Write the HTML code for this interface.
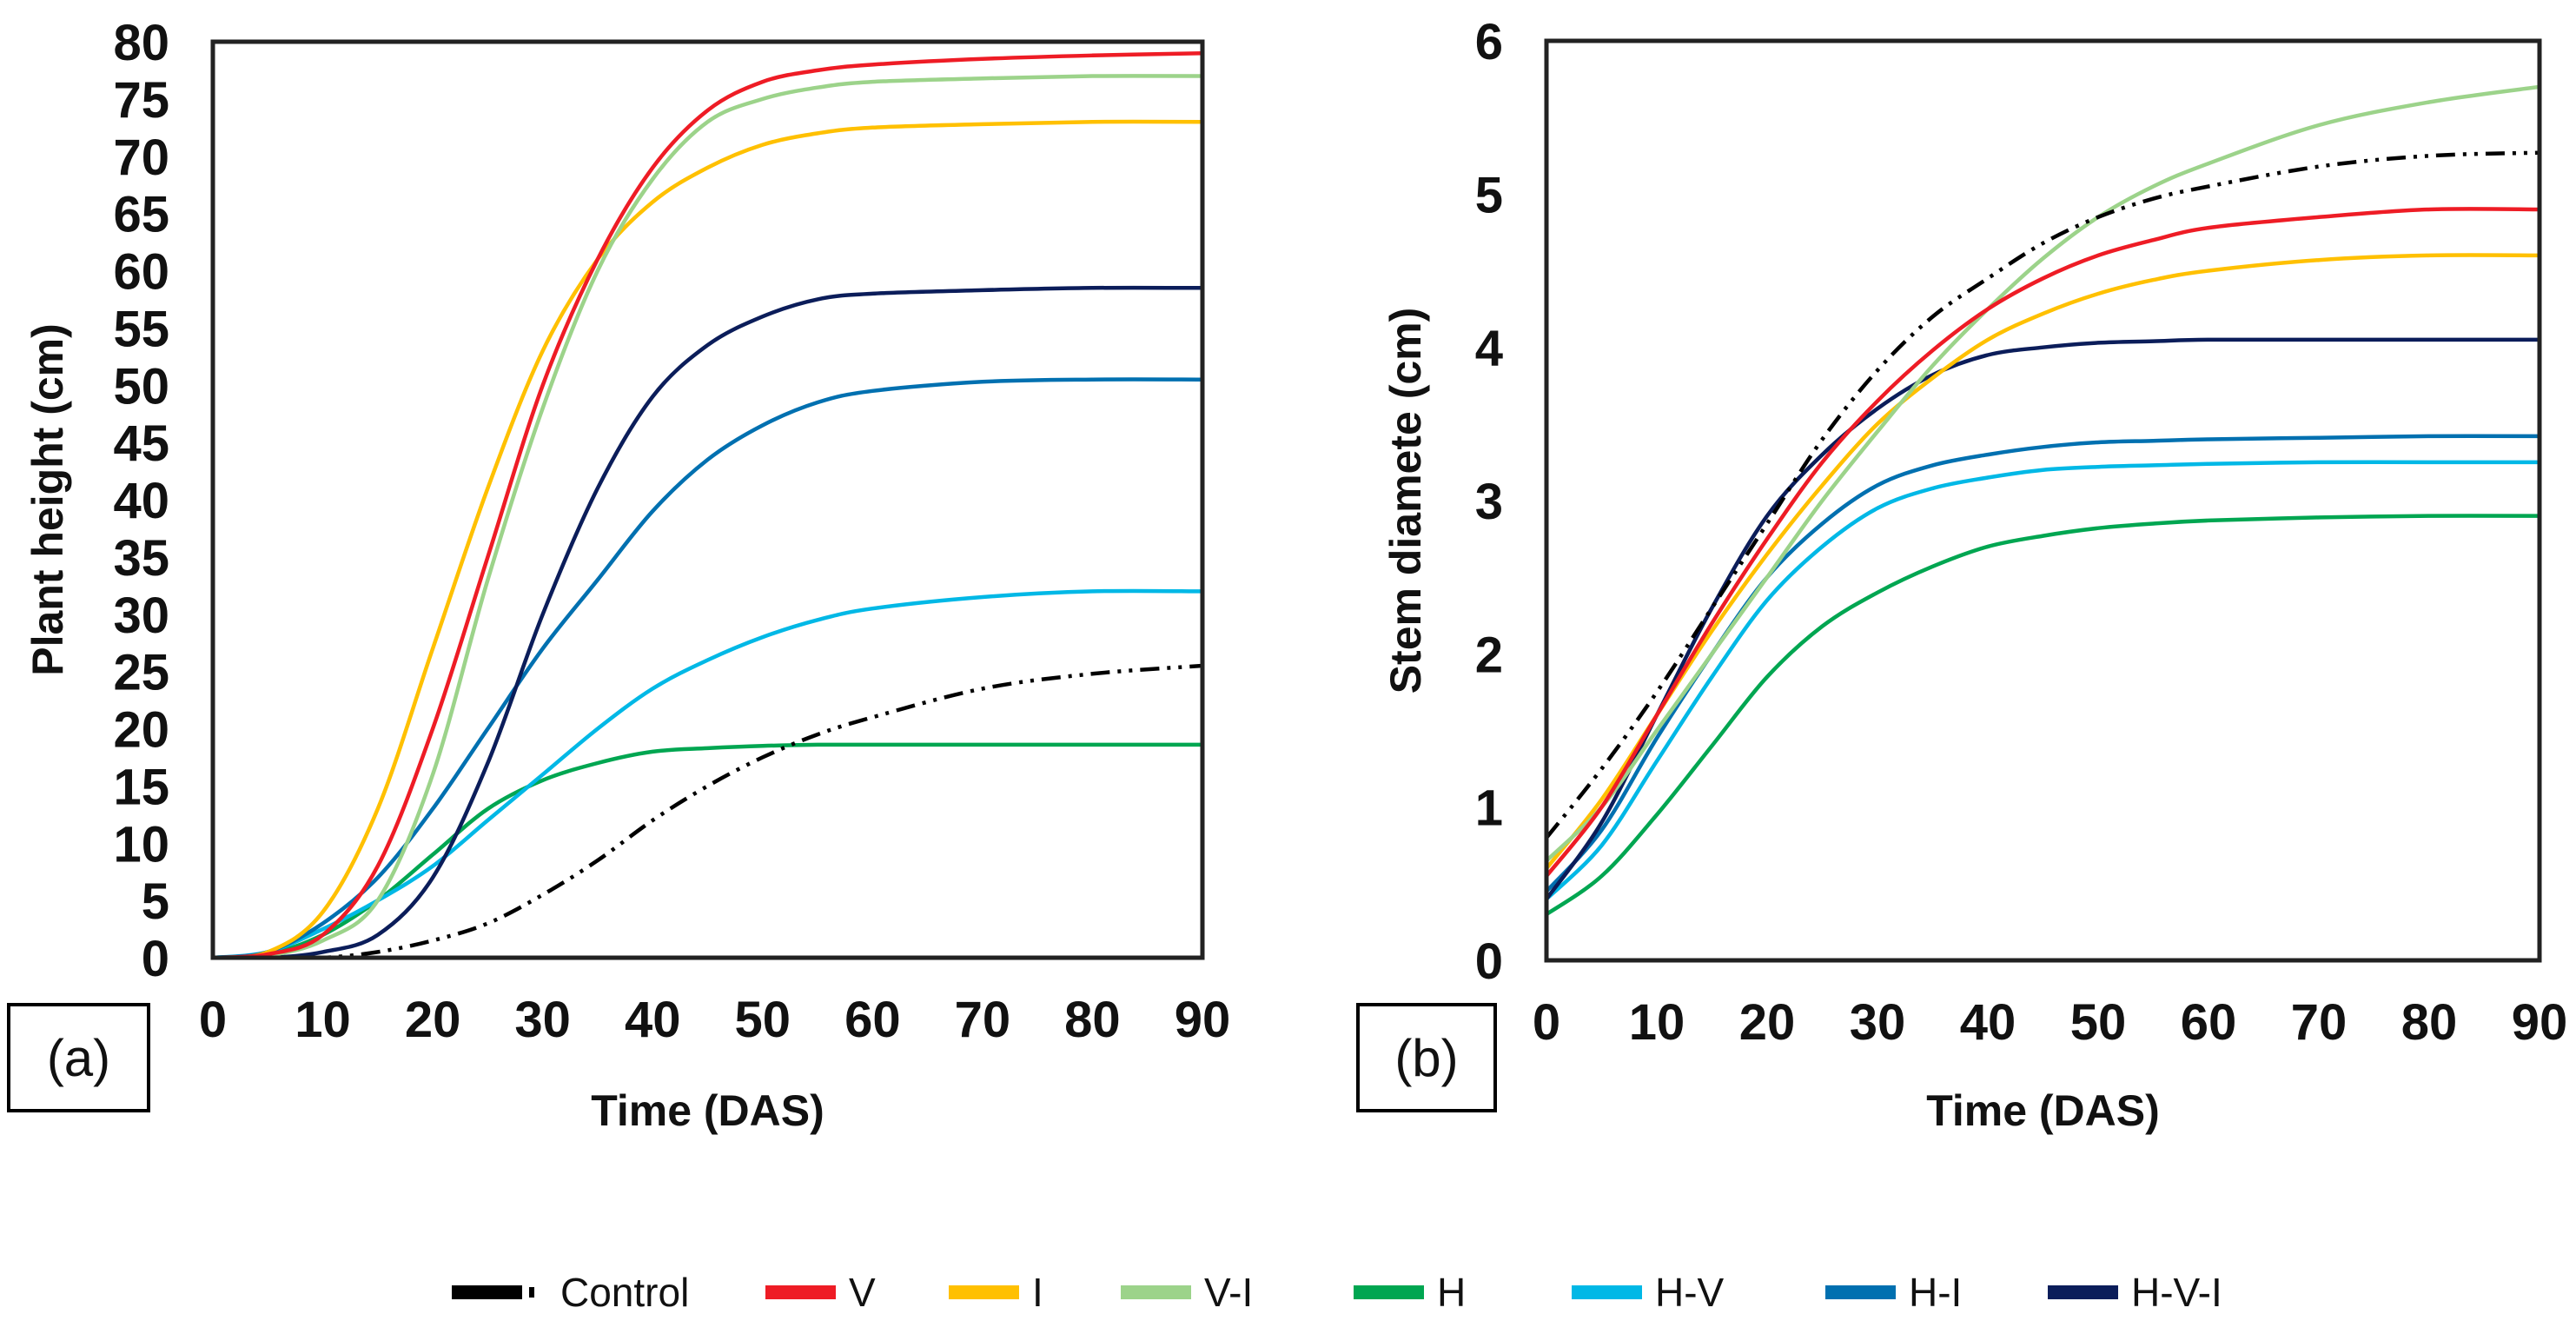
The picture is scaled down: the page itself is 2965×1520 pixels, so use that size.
<!DOCTYPE html>
<html><head><meta charset="utf-8"><style>
html,body{margin:0;padding:0;background:#fff}
svg{display:block}
text{font-family:"Liberation Sans",Arial,sans-serif}
</style></head><body>
<svg id="fig" width="2965" height="1520" viewBox="0 0 2965 1520" xmlns="http://www.w3.org/2000/svg">
<g id="pa"></g>
<g id="pb"></g>
<g id="legend"></g>
</svg>
<script>
const seriesNames = ["Control","V","I","V-I","H","H-V","H-I","H-V-I"];
const seriesColors = ["#000000","#ee1c25","#ffc000","#9cd38a","#00a651","#00b8e6","#0070b0","#0b1d5a"];
const aTimes = [0,5,10,15,20,25,30,35,40,45,50,55,60,70,80,90];
const aControl = [0,0,0,0.5,1.5,3,5.5,8.5,12,15,17.5,19.5,21,23.5,24.8,25.5];
const aV = [0,0.3,2,8,20,35,50,61,69,74,76.5,77.5,78,78.5,78.8,79];
const aI = [0,0.5,4,13,27,41,53,61,66,69,71,72,72.5,72.8,73,73];
const aVI = [0,0.2,1.5,5,16,33,48,60,68,73,75,76,76.5,76.8,77,77];
const aH = [0,0.3,2,5,9,13,15.5,17,18,18.3,18.5,18.6,18.6,18.6,18.6,18.6];
const aHV = [0,0.5,2.5,5,8,12,16,20,23.5,26,28,29.5,30.5,31.5,32,32];
const aHI = [0,0.5,3,7,13,20,27,33,39,43.5,46.5,48.5,49.5,50.3,50.5,50.5];
const aHVI = [0,0,0.5,2,7,17,30,41,49,53.5,56,57.5,58,58.3,58.5,58.5];
const bTimes = [0,5,10,15,20,25,30,35,40,45,50,55,60,70,80,90];
const bControl = [0.8,1.25,1.75,2.3,2.85,3.4,3.85,4.2,4.45,4.68,4.85,4.97,5.05,5.18,5.25,5.27];
const bV = [0.55,1.0,1.6,2.2,2.75,3.25,3.65,3.98,4.25,4.45,4.6,4.7,4.78,4.85,4.9,4.9];
const bI = [0.6,1.05,1.6,2.15,2.65,3.1,3.5,3.8,4.05,4.22,4.35,4.44,4.5,4.57,4.6,4.6];
const bVI = [0.65,1.0,1.5,2.0,2.5,3.0,3.45,3.88,4.25,4.58,4.85,5.05,5.2,5.45,5.6,5.7];
const bH = [0.3,0.55,0.95,1.4,1.85,2.18,2.4,2.57,2.7,2.77,2.82,2.85,2.87,2.89,2.9,2.9];
const bHV = [0.4,0.75,1.3,1.85,2.35,2.7,2.95,3.08,3.15,3.2,3.22,3.23,3.24,3.25,3.25,3.25];
const bHI = [0.45,0.85,1.45,2.0,2.5,2.85,3.1,3.23,3.3,3.35,3.38,3.39,3.4,3.41,3.42,3.42];
const bHVI = [0.4,0.9,1.6,2.3,2.9,3.3,3.6,3.82,3.95,4.0,4.03,4.04,4.05,4.05,4.05,4.05];
const xTicks = [0,10,20,30,40,50,60,70,80,90];
const aYTicks = [0,5,10,15,20,25,30,35,40,45,50,55,60,65,70,75,80];
const bYTicks = [0,1,2,3,4,5,6];

const NS="http://www.w3.org/2000/svg";
function mk(tag,attrs,parent){const e=document.createElementNS(NS,tag);for(const k in attrs)e.setAttribute(k,attrs[k]);parent.appendChild(e);return e;}
function path(pts){let d="M"+pts[0][0]+","+pts[0][1];for(let i=0;i<pts.length-1;i++){const p0=pts[Math.max(0,i-1)],p1=pts[i],p2=pts[i+1],p3=pts[Math.min(pts.length-1,i+2)];const c1=[p1[0]+(p2[0]-p0[0])/6,p1[1]+(p2[1]-p0[1])/6];const c2=[p2[0]-(p3[0]-p1[0])/6,p2[1]-(p3[1]-p1[1])/6];d+=" C"+c1[0].toFixed(1)+","+c1[1].toFixed(1)+" "+c2[0].toFixed(1)+","+c2[1].toFixed(1)+" "+p2[0].toFixed(1)+","+p2[1].toFixed(1);}return d;}

function panel(g,cfg){
  const X=t=>cfg.l+(t-0)/90*(cfg.r-cfg.l);
  const Y=v=>cfg.b-v/cfg.ymax*(cfg.b-cfg.t);
  const clip="clip"+cfg.id;
  const cp=mk("clipPath",{id:clip},g);mk("rect",{x:cfg.l,y:cfg.t,width:cfg.r-cfg.l,height:cfg.b-cfg.t},cp);
  const lines=mk("g",{"clip-path":"url(#"+clip+")"},g);
  const order=[4,5,6,7,2,3,1,0];
  order.forEach(i=>{
    const vals=cfg.series[i];
    const pts=cfg.times.map((t,j)=>[X(t),Y(vals[j])]);
    const p=mk("path",{d:path(pts),fill:"none",stroke:seriesColors[i],"stroke-width":4.5,"stroke-linejoin":"round"},lines);
    if(i==0)p.setAttribute("stroke-dasharray","22 9 4 9 4 9");
    
    
  });
  const fr=mk("rect",{x:cfg.l,y:cfg.t,width:cfg.r-cfg.l,height:cfg.b-cfg.t,fill:"none",stroke:"#222","stroke-width":5},g);
  
  
  xTicks.forEach(t=>{const tx=mk("text",{x:X(t),y:cfg.b+91,"font-size":58,"font-weight":"bold","text-anchor":"middle",fill:"#111"},g);tx.textContent=t;
    
    });
  cfg.yTicks.forEach(v=>{const tx=mk("text",{x:cfg.l-cfg.ylabOff,y:Y(v)+21,"font-size":58,"font-weight":"bold","text-anchor":"end",fill:"#111"},g);tx.textContent=v;
    
    });
  const xt=mk("text",{x:(cfg.l+cfg.r)/2,y:1295,"font-size":50,"font-weight":"bold","text-anchor":"middle",fill:"#111"},g);xt.textContent="Time (DAS)";
  
  
  const yt=mk("text",{x:0,y:0,"font-size":50,"font-weight":"bold","text-anchor":"middle",fill:"#111",transform:"translate("+cfg.ytx+","+((cfg.t+cfg.b)/2)+") rotate(-90)"},g);yt.textContent=cfg.ytitle;
  
  
  const bx=mk("rect",{x:cfg.box[0],y:1156,width:cfg.box[1]-cfg.box[0],height:122,fill:"#fff",stroke:"#000","stroke-width":4},g);
  
  
  const bt=mk("text",{x:(cfg.box[0]+cfg.box[1])/2,y:1238,"font-size":60,"text-anchor":"middle",fill:"#111"},g);bt.textContent=cfg.label;
  
  
}
panel(document.getElementById("pa"),{id:"a",l:245,r:1384,t:48,b:1102,ymax:80,times:aTimes,
  series:[aControl,aV,aI,aVI,aH,aHV,aHI,aHVI],yTicks:aYTicks,ylabOff:50,ytx:72,ytitle:"Plant height (cm)",box:[10,171],label:"(a)"});
panel(document.getElementById("pb"),{id:"b",l:1780,r:2923,t:47,b:1105,ymax:6,times:bTimes,
  series:[bControl,bV,bI,bVI,bH,bHV,bHI,bHVI],yTicks:bYTicks,ylabOff:50,ytx:1635,ytitle:"Stem diamete (cm)",box:[1563,1721],label:"(b)"});

const legX=[520,881,1092,1290,1558,1809,2101,2357];
const lg=document.getElementById("legend");
seriesNames.forEach((n,i)=>{
  const e=mk("g",{},lg);
  
  
  const x=legX[i];
  mk("rect",{x:x,y:1479,width:81,height:16,fill:seriesColors[i]},e);
  let tx=x+96;
  if(i==0){mk("rect",{x:x+89,y:1481,width:6,height:12,fill:"#000"},e);tx=x+125;}
  const t=mk("text",{x:tx,y:1503,"font-size":46,fill:"#111"},e);t.textContent=n;
});
</script>
</body></html>
